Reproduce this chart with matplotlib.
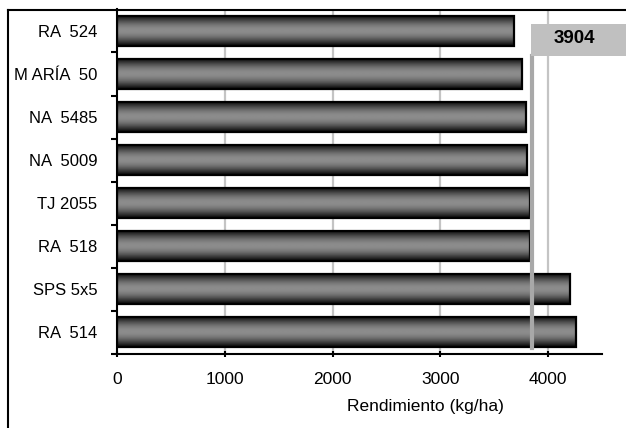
import numpy as np
import matplotlib
matplotlib.use("Agg")
import matplotlib.pyplot as plt
from matplotlib.lines import Line2D
from matplotlib.patches import Rectangle
from matplotlib.colors import LinearSegmentedColormap
import matplotlib.transforms as mtransforms

plt.rcParams['font.family'] = ['Liberation Sans', 'DejaVu Sans']

# data (top to bottom)
varieties = ["RA  524", "M ARÍA  50", "NA  5485", "NA  5009",
             "TJ 2055", "RA  518", "SPS 5x5", "RA  514"]
yields = [3680, 3760, 3790, 3800, 3830, 3830, 4200, 4260]
mean_line = 3850        # where the grey marker is drawn
mean_label = "3904"
xticks = [0, 1000, 2000, 3000, 4000]

fig = plt.figure(figsize=(6.26, 4.28), dpi=100)
ax = fig.add_axes([0.187, 0.173, 0.775, 0.805])

pos = np.arange(len(varieties))
bar_h = 0.7

# shaded "cylinder" look for the bars
t = np.linspace(0, 1, 64)
shade = 0.03 + 0.52 * np.sin(np.pi * t) ** 1.1
grad = shade[:, None]
cmap = LinearSegmentedColormap.from_list("g", ["#000000", "#ffffff"])

for y, v in zip(pos, yields):
    patch = ax.barh(y, v, height=bar_h, facecolor="none",
                    edgecolor="black", linewidth=1.6, zorder=3)[0]
    im = ax.imshow(grad, cmap=cmap, vmin=0, vmax=1, aspect="auto",
                   extent=[0, v, y + bar_h / 2, y - bar_h / 2],
                   zorder=2, interpolation="bilinear")
    im.set_clip_path(patch)

ax.set_xlim(0, 4500)
ax.set_ylim(len(varieties) - 0.5, -0.5)

# grid
for xv in xticks[1:]:
    ax.axvline(xv, color="#c4c4c4", lw=1.6, zorder=1)

# mean marker line and label box
ax.axvline(mean_line, ymin=0.017, ymax=0.864, color="#a8a8a8", lw=3, zorder=4)
trans = mtransforms.blended_transform_factory(ax.transData, ax.transAxes)
ax.add_patch(Rectangle((mean_line - 15, 0.864), 1200, 0.093, transform=trans,
                       facecolor="#c0c0c0", edgecolor="none", clip_on=False,
                       zorder=4))
ax.text(4240, 0.915, mean_label, transform=trans, ha="center", va="center",
        fontsize=13.5, fontweight="bold", zorder=5)

# axes styling
for s in ["top", "right"]:
    ax.spines[s].set_visible(False)
ax.spines["left"].set_linewidth(1.5)
ax.spines["bottom"].set_linewidth(1.5)

ax.set_yticks(pos)
ax.set_yticklabels(varieties, fontsize=12)
ax.tick_params(axis="y", which="major", length=0, pad=14)
ax.set_yticks(np.arange(1, len(varieties) + 1) - 0.5, minor=True)
ax.tick_params(axis="y", which="minor", length=4, width=1.5, direction="out")

ax.set_xticks(xticks)
ax.set_xticklabels([str(x) for x in xticks], fontsize=12.5)
ax.tick_params(axis="x", length=4, width=1.5, direction="inout", pad=11)

ax.text(0.635, -0.153, "Rendimiento (kg/ha)", transform=ax.transAxes,
        ha="center", va="center", fontsize=12.5)

# outer frame (left and top edges)
fig.add_artist(Line2D([8 / 626, 8 / 626], [0, 1 - 9.5 / 428], color="black",
                      lw=1.5, transform=fig.transFigure))
fig.add_artist(Line2D([8 / 626, 1], [1 - 9.5 / 428, 1 - 9.5 / 428],
                      color="black", lw=1.5, transform=fig.transFigure))

fig.savefig("out.png", dpi=100)
